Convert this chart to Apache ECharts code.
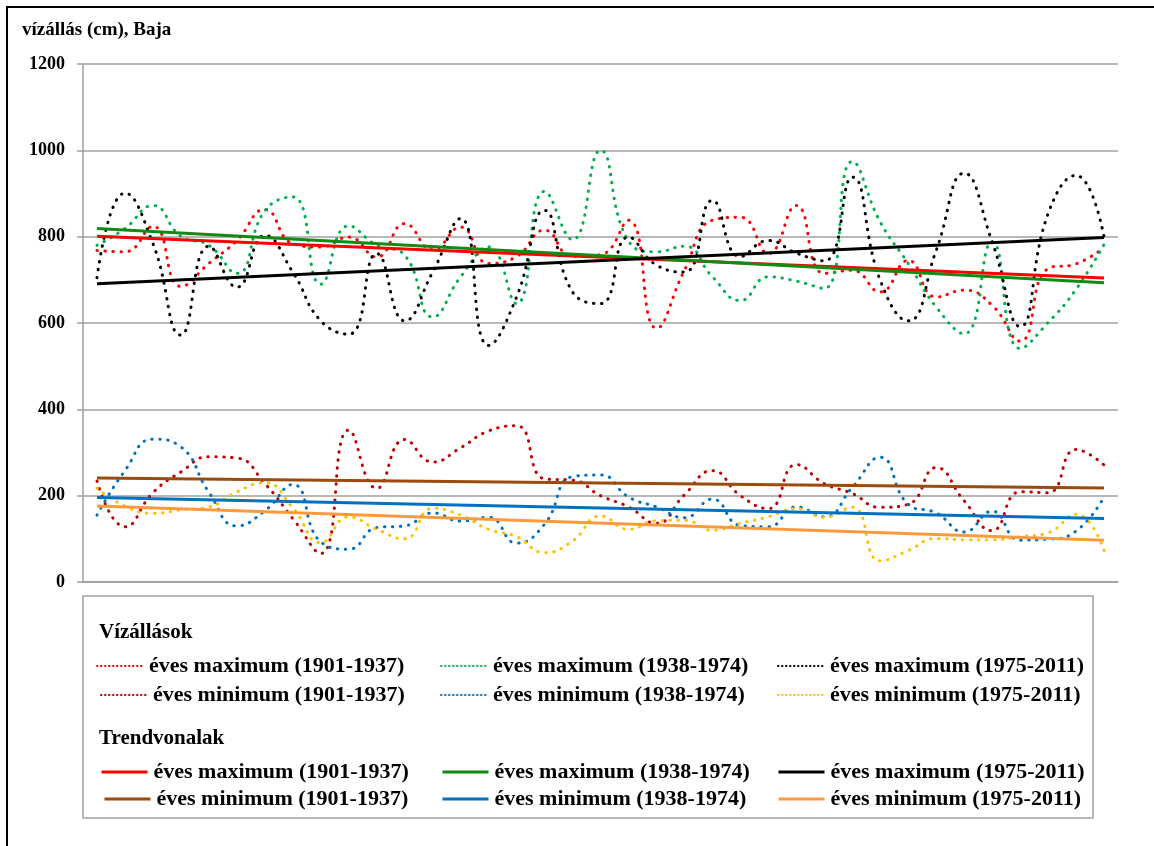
<!DOCTYPE html>
<html>
<head>
<meta charset="utf-8">
<script src="https://cdn.jsdelivr.net/npm/echarts@6/dist/echarts.min.js"></script>
<style>
html,body{margin:0;padding:0;background:#fff;}
#chart{width:1154px;height:846px;}
</style>
</head>
<body>
<div id="chart"></div>
<script>
// ---- data ----
const categories = Array.from({length: 37}, (_, i) => String(i + 1));
const yTicks = [0, 200, 400, 600, 800, 1000, 1200];

const maxA = [768, 765, 824, 685, 738, 791, 863, 784, 776, 799, 753, 830, 770, 822, 738, 754, 815, 754, 758, 838, 588, 722, 838, 845, 761, 872, 715, 722, 672, 745, 660, 676, 641, 558, 726, 737, 775];
const maxB = [780, 819, 872, 801, 780, 715, 860, 892, 690, 825, 780, 757, 614, 707, 776, 645, 905, 793, 1000, 790, 765, 778, 707, 652, 707, 697, 680, 974, 834, 738, 637, 575, 788, 541, 601, 678, 782];
const maxC = [705, 901, 784, 572, 778, 683, 803, 718, 605, 574, 761, 605, 718, 842, 548, 660, 861, 672, 645, 799, 734, 718, 884, 754, 791, 762, 744, 938, 699, 605, 768, 947, 788, 592, 853, 942, 800];
const minA = [234, 128, 207, 255, 290, 287, 228, 147, 66, 352, 217, 330, 278, 311, 350, 362, 239, 236, 200, 174, 136, 202, 258, 200, 170, 272, 228, 205, 173, 180, 265, 188, 119, 209, 207, 307, 271];
const minB = [155, 258, 331, 313, 208, 130, 165, 226, 93, 76, 126, 130, 160, 141, 150, 90, 134, 244, 248, 197, 174, 149, 192, 131, 128, 174, 151, 219, 289, 180, 160, 116, 164, 97, 99, 118, 197];
const minC = [217, 176, 159, 167, 174, 209, 230, 172, 91, 151, 122, 100, 171, 155, 122, 105, 68, 95, 153, 122, 142, 143, 120, 136, 151, 170, 150, 173, 49, 73, 101, 98, 98, 105, 114, 157, 73];

// trend lines: [value at first year, value at last year]
const trendMaxA = [801, 704];
const trendMaxB = [819, 693];
const trendMaxC = [691, 798];
const trendMinA = [241, 218];
const trendMinB = [196, 147];
const trendMinC = [176, 97];

const namesMax = ['éves maximum (1901-1937)', 'éves maximum (1938-1974)', 'éves maximum (1975-2011)'];
const namesMin = ['éves minimum (1901-1937)', 'éves minimum (1938-1974)', 'éves minimum (1975-2011)'];
const TP = 'Trend: ';

// ---- chart ----
const FONT = '"Liberation Serif", "Times New Roman", serif';
const chart = echarts.init(document.getElementById('chart'), null, {renderer: 'canvas'});

function trendData(t) {
  return categories.map((c, i) => i === 0 ? t[0] : (i === categories.length - 1 ? t[1] : null));
}
const DOT = [0.5, 7.5];
function dotted(name, data, color) {
  return {name, type: 'line', data, smooth: 0.5, symbol: 'none', z: 2,
    lineStyle: {color, width: 3, type: DOT, cap: 'round'}, itemStyle: {color}};
}
function trend(name, t, color) {
  return {name: TP + name, type: 'line', data: trendData(t), connectNulls: true, symbol: 'none', z: 3,
    lineStyle: {color, width: 3, type: 'solid'}, itemStyle: {color}};
}

const dotColors = ['#FF0000', '#00B050', '#000000', '#C00000', '#0070C0', '#FFC000'];
const trendColors = ['#FF0000', '#138A13', '#000000', '#9C4A0E', '#0070C0', '#FF9A3C'];

const series = [
  dotted(namesMax[0], maxA, dotColors[0]),
  dotted(namesMax[1], maxB, dotColors[1]),
  dotted(namesMax[2], maxC, dotColors[2]),
  dotted(namesMin[0], minA, dotColors[3]),
  dotted(namesMin[1], minB, dotColors[4]),
  dotted(namesMin[2], minC, dotColors[5]),
  trend(namesMax[0], trendMaxA, trendColors[0]),
  trend(namesMax[1], trendMaxB, trendColors[1]),
  trend(namesMax[2], trendMaxC, trendColors[2]),
  trend(namesMin[0], trendMinA, trendColors[3]),
  trend(namesMin[1], trendMinB, trendColors[4]),
  trend(namesMin[2], trendMinC, trendColors[5])
];

const legTxt = {fontFamily: FONT, fontWeight: 'bold', fontSize: 22, color: '#000', padding: [0, 0, 0, 1]};
function legendItem(name, left, centerY, dottedIcon) {
  return {
    orient: 'horizontal', left, top: centerY - 7, itemWidth: 46, itemHeight: 14,
    padding: 0, data: [name], selectedMode: false,
    formatter: n => n.replace(TP, ''),
    textStyle: legTxt,
    itemStyle: {opacity: 0, color: 'rgba(0,0,0,0)', borderWidth: 0},
    lineStyle: dottedIcon ? {width: 2, type: [0.5, 3.5], cap: 'round'} : {width: 3, type: 'solid'}
  };
}
const legends = [
  legendItem(namesMax[0], 96, 662, true),
  legendItem(namesMin[0], 100, 691, true),
  legendItem(namesMax[1], 440, 662, true),
  legendItem(namesMin[1], 440, 691, true),
  legendItem(namesMax[2], 777, 662, true),
  legendItem(namesMin[2], 777, 691, true),
  legendItem(TP + namesMax[0], 100, 768, false),
  legendItem(TP + namesMin[0], 103, 795, false),
  legendItem(TP + namesMax[1], 441, 768, false),
  legendItem(TP + namesMin[1], 441, 795, false),
  legendItem(TP + namesMax[2], 777, 768, false),
  legendItem(TP + namesMin[2], 777, 795, false)
];

chart.setOption({
  animation: false,
  backgroundColor: '#fff',
  grid: {left: 83, top: 64, right: 36, bottom: 264, containLabel: false},
  xAxis: {
    type: 'category', data: categories, boundaryGap: true,
    axisLine: {show: true, lineStyle: {color: '#a0a0a0', width: 1.5}},
    axisTick: {show: false}, axisLabel: {show: false}, splitLine: {show: false}
  },
  yAxis: {
    type: 'value', min: yTicks[0], max: yTicks[yTicks.length - 1], interval: 200,
    axisLine: {show: true, lineStyle: {color: '#a0a0a0', width: 1.5}},
    axisTick: {show: true, length: 6, lineStyle: {color: '#a0a0a0', width: 1.5}},
    axisLabel: {fontFamily: FONT, fontWeight: 'bold', fontSize: 18, color: '#000', margin: 18,
      formatter: v => String(v)},
    splitLine: {show: true, lineStyle: {color: '#a0a0a0', width: 1.5}}
  },
  legend: legends,
  graphic: [
    {type: 'rect', shape: {x: 7, y: 7, width: 1170, height: 860}, style: {fill: 'none', stroke: '#000', lineWidth: 2}, silent: true},
    {type: 'rect', shape: {x: 83, y: 596, width: 1010, height: 222}, style: {fill: 'none', stroke: '#a0a0a0', lineWidth: 1.5}, silent: true},
    {type: 'text', left: 22, top: 21, style: {text: 'vízállás (cm), Baja', font: 'bold 19px ' + FONT, fill: '#000'}},
    {type: 'text', left: 99, top: 622, style: {text: 'Vízállások', font: 'bold 21px ' + FONT, fill: '#000'}},
    {type: 'text', left: 99, top: 728, style: {text: 'Trendvonalak', font: 'bold 21px ' + FONT, fill: '#000'}}
  ],
  series
});
</script>
</body>
</html>
